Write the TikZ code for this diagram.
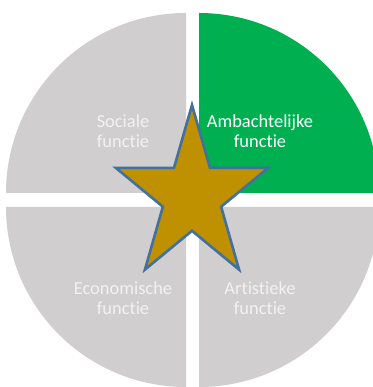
\documentclass[tikz,border=0pt]{standalone}
\usepackage{fontspec}
\setmainfont{Carlito}[Ligatures=NoCommon]
\definecolor{quadgray}{HTML}{D0CECE}
\definecolor{quadgreen}{HTML}{00B050}
\definecolor{stargold}{HTML}{BF9000}
\definecolor{staredge}{HTML}{41719C}
\definecolor{labelgray}{HTML}{F2F2F2}
\tikzset{
  quadrant/.style={fill=quadgray, draw=none},
  label text/.style={text=labelgray, align=center, font=\fontsize{18.5}{20.5}\selectfont, inner sep=0pt},
  star shape/.style={fill=stargold, draw=staredge, line width=2.6bp, line join=miter}
}
\begin{document}
\begin{tikzpicture}[x=1bp,y=1bp]
  \useasboundingbox (0,0) rectangle (373,387);
  \clip (0,0) rectangle (373,387);
  \fill[white] (0,0) rectangle (373,387);

  % four quarter discs of the exploded pie
  \path[quadrant] (186,194) -- ++(-180,0) arc[start angle=180, end angle=90, radius=180] -- cycle;
  \path[quadrant, fill=quadgreen] (199,194) -- ++(0,180) arc[start angle=90, end angle=0, radius=180] -- cycle;
  \path[quadrant] (186,180) -- ++(-180,0) arc[start angle=180, end angle=270, radius=180] -- cycle;
  \path[quadrant] (199,180) -- ++(0,-180) arc[start angle=270, end angle=360, radius=180] -- cycle;

  % quadrant labels
  \node[label text] (sociale) at (123,256) {Sociale\\functie};
  \node[label text, text=white] (ambacht) at (260,256) {Ambachtelijke\\functie};
  \node[label text] (econ) at (123,89) {Economische\\functie};
  \node[label text] (artist) at (260,89) {Artistieke\\functie};

  % five-pointed star in the middle, slightly narrowed
  \begin{scope}[shift={(192,191)}, xscale=0.88]
    \draw[star shape] (90:91) -- (126:34.8) -- (162:91) -- (198:34.8) -- (234:91)
      -- (270:34.8) -- (306:91) -- (342:34.8) -- (18:91) -- (54:34.8) -- cycle;
  \end{scope}
\end{tikzpicture}
\end{document}
